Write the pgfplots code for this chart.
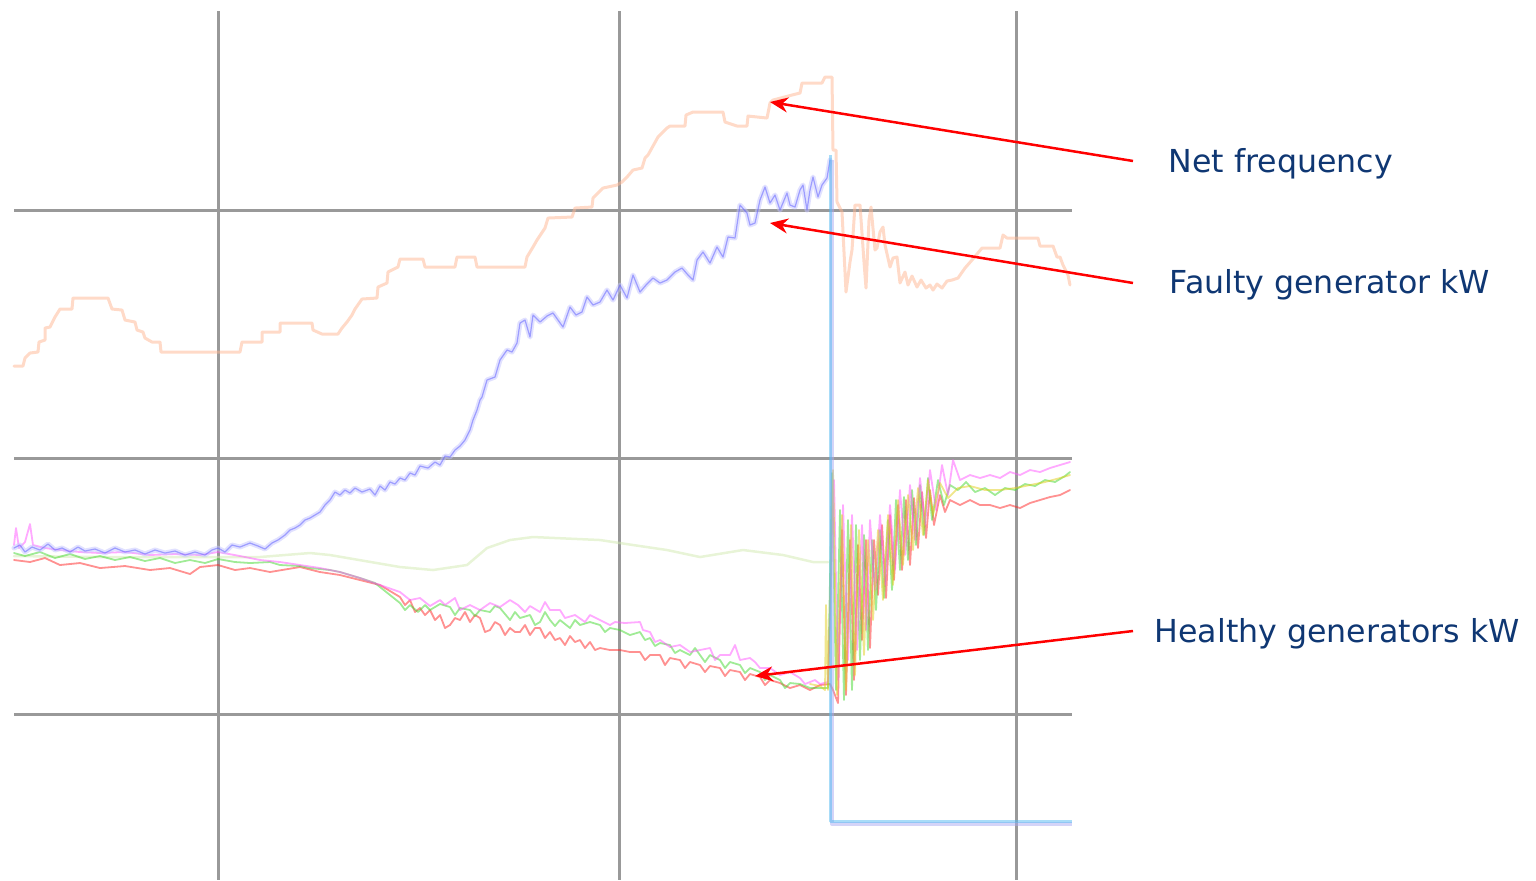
\documentclass[border=0pt]{standalone}
\usepackage{pgfplots}
\pgfplotsset{compat=1.18}
\usepackage{fontspec}
\setmainfont{DejaVu Sans}
\usetikzlibrary{arrows.meta}
\definecolor{gridc}{RGB}{153,153,153}
\definecolor{navy}{RGB}{15,55,115}
\definecolor{freqc}{RGB}{255,181,145}
\definecolor{faultc}{RGB}{90,90,255}
\definecolor{haloc}{RGB}{195,195,255}
\definecolor{lavc}{RGB}{169,169,241}
\definecolor{lblue}{RGB}{81,185,241}
\definecolor{pinkc}{RGB}{255,85,255}
\definecolor{greenc}{RGB}{65,215,45}
\definecolor{redc}{RGB}{255,35,35}
\definecolor{yelc}{RGB}{225,205,25}
\definecolor{paleg}{RGB}{209,233,175}
\begin{document}
\begin{tikzpicture}
\path[use as bounding box] (0,0) rectangle (15.36cm,8.8cm);
\begin{axis}[at={(0,0)},anchor=south west,scale only axis,
  width=15.36cm,height=8.8cm,xmin=0,xmax=1536,ymin=0,ymax=880,
  y dir=reverse,hide axis,clip=false,
  every axis plot/.append style={line join=round,line cap=round,opacity=0.5}]
% grid
\addplot[gridc,line width=0.3mm,opacity=1,line cap=butt] coordinates {(218.5,11)(218.5,880)};
\addplot[gridc,line width=0.3mm,opacity=1,line cap=butt] coordinates {(619,11)(619,880)};
\addplot[gridc,line width=0.3mm,opacity=1,line cap=butt] coordinates {(1016,11)(1016,880)};
\addplot[gridc,line width=0.3mm,opacity=1,line cap=butt] coordinates {(14,210.5)(1072,210.5)};
\addplot[gridc,line width=0.3mm,opacity=1,line cap=butt] coordinates {(14,458.5)(1072,458.5)};
\addplot[gridc,line width=0.3mm,opacity=1,line cap=butt] coordinates {(14,714.5)(1072,714.5)};
% pale green
\addplot[paleg,line width=0.25mm] coordinates {(14,556)(100,557)(218,557)(260,557)(310,553)(330,555)(400,567)(433,570)(467,565)(487,548)(510,540)(533,537)(600,540)(633,545)(667,550)(700,557)(743,550)(783,555)(813,562)(828,562)};
% net frequency
\addplot[freqc,line width=0.3mm] coordinates {(14,366)(23,366)(25,358)(30,353)(38,352)(39,342)(45,340)(45,328)(50,327)(55,317)(60,309)(72,309)(73,298)(108,298)(112,309)(122,310)(125,320)(135,322)(137,330)(143,332)(145,338)(152,342)(160,342)(161,352)(240,352)(242,342)(262,342)(262,332)(280,332)(280,323)(312,323)(313,330)(322,334)(338,334)(342,328)(347,322)(352,315)(355,309)(362,299)(377,298)(378,287)(387,283)(388,272)(398,267)(400,259)(423,259)(425,267)(455,267)(457,257)(475,257)(477,267)(525,267)(527,257)(533,247)(537,240)(545,228)(548,218)(572,217)(575,208)(592,207)(593,198)(603,188)(617,185)(622,182)(627,177)(633,170)(642,168)(645,158)(648,155)(658,137)(660,135)(667,128)(670,126)(685,126)(686,115)(693,112)(723,112)(725,122)(737,126)(747,126)(748,116)(767,118)(770,103)(773,100)(792,95)(800,93)(802,83)(822,83)(825,77)(832,77)(833,150)(836,150)(837,202)(842,212)(846,292)(850,262)(852,250)(855,205)(860,205)(864,262)(866,288)(869,220)(871,207)(875,250)(877,248)(880,232)(883,227)(885,245)(890,267)(893,258)(897,257)(900,283)(905,272)(908,285)(912,276)(917,287)(921,280)(926,288)(930,285)(933,290)(937,284)(942,288)(947,281)(952,280)(958,278)(965,268)(972,260)(982,248)(1000,248)(1003,235)(1007,238)(1038,238)(1040,246)(1053,246)(1057,257)(1060,257)(1063,265)(1068,275)(1070,285)};
% healthy generators
\addplot[redc,line width=0.18mm] coordinates {(14,560)(30,562)(45,558)(60,565)(80,563)(100,568)(125,566)(150,570)(170,568)(190,574)(200,567)(218,565)(235,570)(250,568)(270,572)(300,567)(320,572)(340,575)(360,580)(380,585)(400,597)(405,605)(410,600)(415,612)(420,608)(425,615)(430,610)(435,620)(440,615)(445,628)(450,625)(455,618)(460,620)(465,612)(470,622)(475,615)(480,618)(485,632)(490,630)(495,622)(500,625)(505,635)(510,628)(515,632)(520,632)(525,625)(530,635)(535,628)(540,628)(545,638)(550,632)(555,640)(560,638)(565,645)(570,636)(575,642)(580,640)(585,648)(590,642)(595,650)(600,648)(610,650)(620,650)(630,652)(640,652)(645,660)(650,655)(660,655)(665,665)(670,658)(680,660)(685,668)(690,662)(700,665)(705,672)(710,666)(720,668)(725,676)(730,670)(740,672)(745,680)(750,674)(760,677)(765,685)(770,680)(780,683)(790,688)(800,685)(810,690)(820,685)(830,684)(833,690)(838,703)(842,530)(846,695)(850,540)(854,680)(858,545)(862,640)(866,540)(870,648)(874,540)(878,595)(882,525)(886,598)(890,515)(894,580)(898,505)(902,570)(906,500)(910,565)(914,498)(918,548)(922,492)(926,538)(930,490)(934,525)(940,495)(945,512)(950,500)(960,505)(970,500)(980,505)(990,505)(1000,508)(1010,505)(1020,508)(1030,503)(1040,500)(1050,497)(1060,495)(1070,490)};
\addplot[greenc,line width=0.18mm] coordinates {(14,553)(25,556)(40,552)(55,558)(70,554)(85,559)(100,556)(115,560)(130,557)(145,561)(160,558)(175,563)(190,560)(205,563)(218,559)(235,562)(250,563)(270,562)(280,565)(300,566)(310,568)(330,570)(340,572)(360,578)(375,583)(390,595)(400,603)(405,610)(410,605)(418,612)(425,605)(430,610)(440,604)(450,607)(455,615)(460,608)(470,610)(475,616)(480,610)(490,612)(495,606)(500,608)(510,620)(515,612)(520,618)(530,615)(535,625)(540,622)(545,612)(550,620)(555,626)(560,620)(570,628)(575,620)(580,625)(590,622)(600,625)(605,632)(610,628)(620,630)(630,635)(640,632)(645,640)(650,638)(655,646)(660,643)(670,645)(675,653)(680,650)(690,655)(695,648)(700,655)(705,662)(710,655)(720,660)(725,668)(730,662)(740,665)(745,673)(750,668)(760,672)(765,680)(770,675)(780,680)(785,688)(790,683)(800,684)(810,688)(820,688)(828,688)(832,473)(836,690)(840,510)(844,700)(848,520)(852,690)(856,525)(860,660)(864,535)(868,650)(872,540)(876,610)(880,530)(884,598)(888,520)(892,590)(896,500)(900,570)(904,497)(908,560)(912,490)(916,545)(920,485)(924,535)(928,478)(932,520)(938,480)(944,505)(950,485)(958,490)(966,482)(975,492)(985,488)(995,495)(1005,488)(1015,490)(1025,484)(1035,486)(1045,480)(1055,482)(1065,476)(1070,472)};
\addplot[pinkc,line width=0.18mm] coordinates {(14,545)(16,528)(19,548)(25,542)(30,524)(33,545)(45,548)(60,550)(80,552)(100,553)(125,552)(150,555)(175,554)(200,555)(218,552)(240,556)(260,560)(280,562)(300,565)(320,568)(340,572)(360,578)(380,585)(400,592)(410,600)(420,598)(430,606)(440,600)(445,605)(455,598)(460,610)(470,605)(480,610)(490,603)(500,607)(510,600)(518,605)(525,612)(530,606)(540,612)(545,602)(550,610)(560,610)(565,618)(575,615)(585,622)(590,615)(600,620)(610,625)(615,622)(625,623)(640,622)(643,630)(650,632)(655,642)(660,640)(670,647)(680,645)(690,652)(700,650)(710,648)(715,660)(720,655)(730,655)(735,645)(740,660)(750,658)(755,662)(760,668)(770,668)(780,675)(790,672)(800,678)(805,684)(815,680)(820,684)(828,682)(834,480)(838,680)(843,505)(848,660)(852,515)(857,650)(862,525)(866,630)(870,520)(875,590)(880,515)(885,585)(890,505)(895,570)(900,490)(905,555)(910,485)(915,540)(920,478)(925,525)(930,470)(936,510)(942,465)(948,495)(953,460)(960,480)(970,475)(980,478)(990,475)(1000,478)(1010,472)(1020,475)(1030,470)(1040,472)(1050,468)(1060,465)(1070,462)};
\addplot[yelc,line width=0.18mm] coordinates {(810,684)(820,686)(825,690)(826,605)(828,690)(833,470)(837,695)(842,515)(846,690)(851,525)(855,675)(859,530)(864,655)(868,540)(873,620)(878,530)(883,600)(888,515)(893,585)(898,500)(903,565)(908,495)(913,550)(918,488)(923,535)(928,480)(933,515)(940,483)(948,498)(958,488)(970,486)(985,490)(1000,490)(1015,488)(1030,485)(1045,482)(1060,478)(1070,475)};
% faulty generator
\addplot[haloc,line width=0.5mm] coordinates {(14,548)(20,545)(25,552)(32,547)(40,550)(48,544)(55,550)(62,548)(70,552)(78,547)(85,551)(95,549)(105,553)(115,548)(125,552)(135,550)(145,554)(155,550)(165,553)(175,551)(185,555)(195,552)(205,555)(212,550)(218,548)(225,552)(232,545)(240,547)(250,543)(258,546)(265,549)(272,543)(278,540)(285,535)(290,530)(295,528)(300,525)(305,520)(310,518)(315,515)(320,512)(325,505)(330,500)(335,492)(340,495)(345,490)(350,493)(355,488)(362,492)(370,489)(375,495)(380,486)(385,490)(390,482)(395,484)(400,478)(405,480)(410,473)(415,475)(420,466)(428,468)(435,462)(440,465)(445,456)(450,457)(455,450)(460,446)(465,440)(470,430)(473,420)(477,410)(480,400)(482,397)(487,380)(495,377)(500,360)(507,350)(512,352)(517,343)(520,323)(525,320)(530,337)(533,315)(540,322)(547,316)(553,313)(558,320)(563,327)(570,307)(576,315)(582,312)(587,297)(593,305)(600,302)(607,290)(613,300)(620,285)(627,298)(633,275)(640,292)(646,285)(653,278)(660,283)(667,280)(675,272)(682,268)(688,275)(693,280)(697,260)(703,252)(710,263)(717,247)(723,257)(728,237)(735,238)(740,205)(747,213)(750,225)(755,223)(760,200)(765,187)(770,203)(775,195)(780,210)(787,193)(790,205)(795,207)(800,190)(803,185)(807,210)(810,190)(813,177)(818,197)(822,185)(827,178)(830,160)};
\addplot[faultc,line width=0.12mm] coordinates {(14,548)(20,545)(25,552)(32,547)(40,550)(48,544)(55,550)(62,548)(70,552)(78,547)(85,551)(95,549)(105,553)(115,548)(125,552)(135,550)(145,554)(155,550)(165,553)(175,551)(185,555)(195,552)(205,555)(212,550)(218,548)(225,552)(232,545)(240,547)(250,543)(258,546)(265,549)(272,543)(278,540)(285,535)(290,530)(295,528)(300,525)(305,520)(310,518)(315,515)(320,512)(325,505)(330,500)(335,492)(340,495)(345,490)(350,493)(355,488)(362,492)(370,489)(375,495)(380,486)(385,490)(390,482)(395,484)(400,478)(405,480)(410,473)(415,475)(420,466)(428,468)(435,462)(440,465)(445,456)(450,457)(455,450)(460,446)(465,440)(470,430)(473,420)(477,410)(480,400)(482,397)(487,380)(495,377)(500,360)(507,350)(512,352)(517,343)(520,323)(525,320)(530,337)(533,315)(540,322)(547,316)(553,313)(558,320)(563,327)(570,307)(576,315)(582,312)(587,297)(593,305)(600,302)(607,290)(613,300)(620,285)(627,298)(633,275)(640,292)(646,285)(653,278)(660,283)(667,280)(675,272)(682,268)(688,275)(693,280)(697,260)(703,252)(710,263)(717,247)(723,257)(728,237)(735,238)(740,205)(747,213)(750,225)(755,223)(760,200)(765,187)(770,203)(775,195)(780,210)(787,193)(790,205)(795,207)(800,190)(803,185)(807,210)(810,190)(813,177)(818,197)(822,185)(827,178)(830,160)};
\addplot[lavc,line width=0.4mm,line cap=butt] coordinates {(832,160)(832,824)(1072,824)};
\addplot[lblue,line width=0.3mm,line cap=butt] coordinates {(830.5,155)(830.5,821)(1072,821)};
\end{axis}
% annotations
\begin{scope}[x=0.1mm,y=-0.1mm,shift={(0,8.8cm)}]
\draw[red,line width=0.25mm,-{Stealth[length=1.8mm,width=1.5mm]}] (1133,161) -- (770,102);
\draw[red,line width=0.25mm,-{Stealth[length=1.8mm,width=1.5mm]}] (1133,283) -- (770,223);
\draw[red,line width=0.25mm,-{Stealth[length=1.8mm,width=1.5mm]}] (1133,631) -- (755,676);
\node[anchor=base west,inner sep=0,text=navy,font=\fontsize{9}{11}\selectfont] at (1168,173) {Net frequency};
\node[anchor=base west,inner sep=0,text=navy,font=\fontsize{9}{11}\selectfont] at (1169,294) {Faulty generator kW};
\node[anchor=base west,inner sep=0,text=navy,font=\fontsize{9}{11}\selectfont] at (1154,642) {Healthy generators kW};
\end{scope}
\end{tikzpicture}
\end{document}
